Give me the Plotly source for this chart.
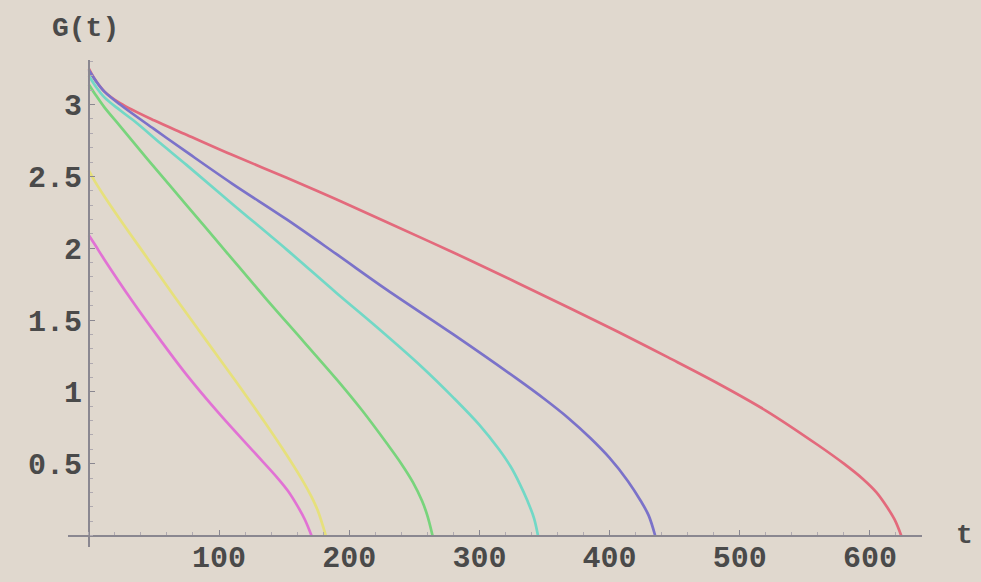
import plotly.graph_objects as go

# G(t) decay curves, one per initial condition
t_red = [0, 5, 12, 24, 50, 75, 110, 152, 190, 229, 280, 329, 370, 406, 445, 483,
         520, 560, 580, 595, 605, 613, 619, 624]
g_red = [3.25, 3.17, 3.09, 3.01, 2.89, 2.79, 2.65, 2.49, 2.34, 2.18, 1.97, 1.76, 1.58,
         1.42, 1.24, 1.06, 0.87, 0.63, 0.50, 0.39, 0.30, 0.20, 0.11, 0.0]

t_blue = [0, 5, 12, 24, 50, 75, 110, 152, 190, 229, 280, 329, 350, 368, 385, 400,
          414, 424, 430, 435]
g_blue = [3.24, 3.17, 3.09, 3.00, 2.83, 2.67, 2.45, 2.20, 1.96, 1.71, 1.40, 1.09, 0.95,
          0.82, 0.68, 0.54, 0.38, 0.24, 0.14, 0.0]

t_cyan = [0, 5, 12, 24, 37, 55, 75, 110, 152, 190, 220, 255, 280, 300, 315, 324,
          331, 337, 342, 345]
g_cyan = [3.20, 3.13, 3.05, 2.96, 2.87, 2.73, 2.58, 2.31, 1.99, 1.69, 1.46, 1.18, 0.96,
          0.77, 0.60, 0.48, 0.36, 0.24, 0.12, 0.0]

t_green = [0, 5, 12, 24, 45, 75, 105, 135, 165, 191, 210, 229, 240, 249, 256, 260, 264]
g_green = [3.14, 3.07, 2.98, 2.85, 2.62, 2.30, 1.98, 1.66, 1.35, 1.08, 0.87, 0.64, 0.50,
           0.37, 0.24, 0.14, 0.0]

t_yellow = [0, 5, 12, 24, 45, 66, 90, 114, 135, 152, 165, 171, 176, 182]
g_yellow = [2.54, 2.46, 2.36, 2.20, 1.93, 1.66, 1.36, 1.06, 0.79, 0.56, 0.37, 0.27,
            0.17, 0.0]

t_magenta = [0, 5, 12, 32, 55, 75, 100, 127, 145, 153, 160, 166, 171]
g_magenta = [2.09, 2.02, 1.92, 1.65, 1.36, 1.12, 0.85, 0.58, 0.40, 0.31, 0.21, 0.11, 0.0]

x_ticks = [100, 200, 300, 400, 500, 600]
y_ticks = [0.5, 1, 1.5, 2, 2.5, 3]
y_tick_text = ["0.5", "1", "1.5", "2", "2.5", "3"]

series = [
    (t_red, g_red, "#e36a7c"),
    (t_blue, g_blue, "#7b72c9"),
    (t_cyan, g_cyan, "#72d8c6"),
    (t_green, g_green, "#78d47c"),
    (t_yellow, g_yellow, "#e6e07c"),
    (t_magenta, g_magenta, "#e172d4"),
]

BG = "#e0d8ce"
AXIS = "#8a8790"
TEXT = "#4a4a4a"
FONT = "Liberation Mono"

fig = go.Figure()
for t, g, c in series:
    fig.add_trace(go.Scatter(
        x=t, y=g, mode="lines",
        line=dict(color=c, width=2.7, shape="spline", smoothing=1.0),
        hoverinfo="skip", showlegend=False,
    ))

x_range = [-16, 640]
y_range = [-0.08, 3.31]
x0_frac = (0 - x_range[0]) / (x_range[1] - x_range[0])
y0_frac = (0 - y_range[0]) / (y_range[1] - y_range[0])

tick_font = dict(family=FONT, size=30, color=TEXT, weight="bold")

fig.update_layout(
    width=981, height=582,
    margin=dict(l=68, r=59, t=60, b=35, autoexpand=False),
    paper_bgcolor=BG, plot_bgcolor=BG,
    xaxis=dict(
        range=x_range, anchor="free", position=y0_frac, automargin=False,
        showgrid=False, zeroline=False,
        showline=True, linecolor=AXIS, linewidth=1.5,
        tickmode="array", tickvals=x_ticks,
        ticks="inside", ticklen=5, tickcolor=AXIS, tickwidth=1,
        ticklabelstandoff=-5,
        minor=dict(ticks="inside", ticklen=3, dtick=20, tickcolor="#b0aab0", showgrid=False),
        tickfont=tick_font,
    ),
    yaxis=dict(
        range=y_range, anchor="free", position=x0_frac, automargin=False,
        showgrid=False, zeroline=False,
        showline=True, linecolor=AXIS, linewidth=1.5,
        tickmode="array", tickvals=y_ticks, ticktext=y_tick_text,
        ticks="inside", ticklen=5, tickcolor=AXIS, tickwidth=1,
        minor=dict(ticks="inside", ticklen=3, dtick=0.1, tickcolor="#b0aab0", showgrid=False),
        tickfont=tick_font,
    ),
    annotations=[
        dict(text="G(t)", xref="paper", yref="paper", x=x0_frac, y=1.0,
             xanchor="right", yanchor="bottom", yshift=14, xshift=32, showarrow=False,
             font=dict(family=FONT, size=28, color=TEXT, weight="bold")),
        dict(text="t", xref="paper", yref="y", x=1.0, y=0,
             xanchor="left", yanchor="middle", xshift=32, showarrow=False,
             font=dict(family=FONT, size=28, color=TEXT, weight="bold")),
    ],
)

fig.write_html("out.html")
